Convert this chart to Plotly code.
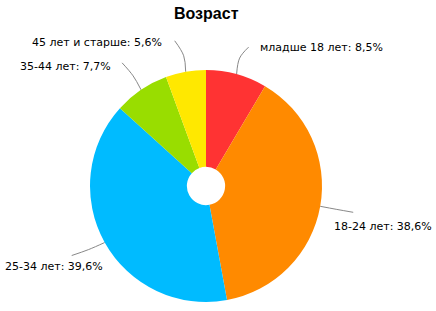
import math
import plotly.graph_objects as go

# ---- data ----
categories = ["младше 18 лет", "18-24 лет", "25-34 лет", "35-44 лет", "45 лет и старше"]
values = [8.5, 38.6, 39.6, 7.7, 5.6]
value_labels = ["8,5%", "38,6%", "39,6%", "7,7%", "5,6%"]
colors = ["#FF3333", "#FF8A00", "#00BBFF", "#99DD00", "#FFE800"]
title = "Возраст"

# ---- layout (pixels) ----
W, H = 436, 311
CX, CY, R = 206, 186, 116
HOLE = 0.165

# per-label: (bend dx, bend dy, end dx, end dy) relative to edge point; text anchor and offset relative to end
line_geo = [
    (3, -16, 12, -27),
    (16, 3, 33, 6),
    (-16, 7, -33, 13),
    (-8, -14, -19, -27),
    (-2, -16, -11, -31),
]
text_geo = [
    ("left", 9, 0),
    ("left", -21, 14),
    ("left", -69, 11),
    ("right", -9, 4),
    ("right", -11, 2),
]

fig = go.Figure()
fig.add_trace(go.Pie(
    labels=categories, values=values, sort=False, direction="clockwise", rotation=0,
    hole=HOLE, textinfo="none", hoverinfo="label+percent",
    marker=dict(colors=colors, line=dict(width=0)),
    domain=dict(x=[(CX - R) / W, (CX + R) / W], y=[1 - (CY + R) / H, 1 - (CY - R) / H]),
    showlegend=False,
))

total = sum(values)
cum = 0.0
annotations = []
for i, v in enumerate(values):
    mid = (cum + v / 2) / total * 2 * math.pi
    cum += v
    ex, ey = CX + R * math.sin(mid), CY - R * math.cos(mid)
    bdx, bdy, edx, edy = line_geo[i]
    xs = [ex, ex + bdx, ex + edx]
    ys = [ey, ey + bdy, ey + edy]
    fig.add_trace(go.Scatter(x=xs, y=ys, mode="lines", line=dict(color="#888888", width=1, shape="spline"),
                             hoverinfo="skip", showlegend=False))
    anchor, tdx, tdy = text_geo[i]
    annotations.append(dict(
        x=ex + edx + tdx, y=ey + edy + tdy, xref="x", yref="y",
        text=f"{categories[i]}: {value_labels[i]}", showarrow=False,
        xanchor=anchor, yanchor="middle",
        font=dict(family="DejaVu Sans", size=11, color="#000000"),
    ))

annotations.append(dict(
    x=206, y=13, xref="x", yref="y", text=f"<b>{title}</b>", showarrow=False,
    xanchor="center", yanchor="middle",
    font=dict(family="Liberation Sans, Arial", size=16, color="#000000"),
))

fig.update_layout(
    width=W, height=H, margin=dict(l=0, r=0, t=0, b=0),
    paper_bgcolor="white", plot_bgcolor="white",
    xaxis=dict(range=[0, W], visible=False, fixedrange=True),
    yaxis=dict(range=[H, 0], visible=False, fixedrange=True),
    annotations=annotations,
)

fig.write_html("out.html")
